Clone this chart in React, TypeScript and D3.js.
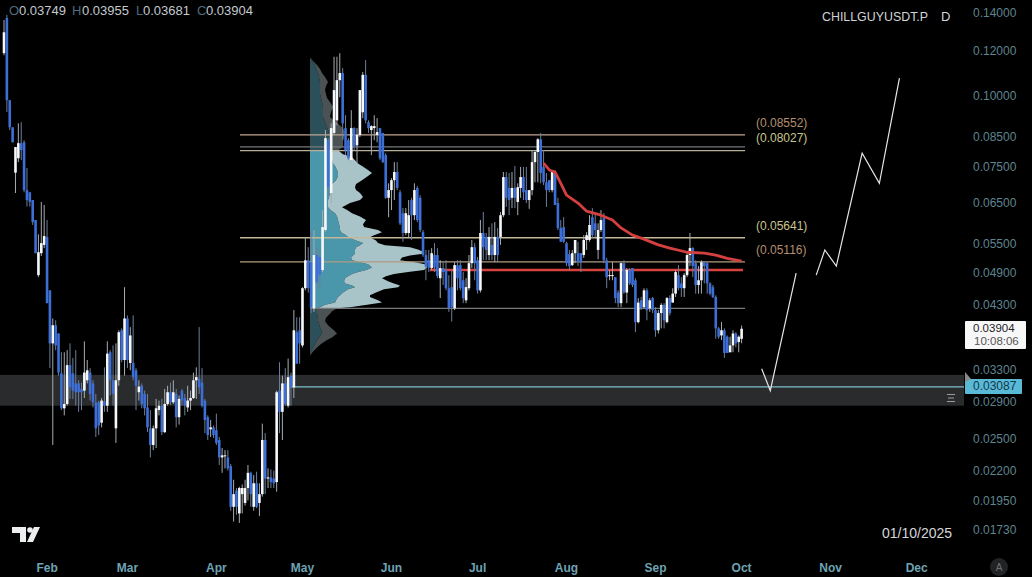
import React from "react";
import * as d3 from "d3";

// All prices are in units of 0.0001 USDT. Each candle is [open, high, low, close].
type Candle = [number, number, number, number];
const UNIT = 0.0001;

const janCandles: Candle[] = [
  [1190,1361,1180,1295],[1372,1389,938,984],[984,984,872,882],[882,882,830,830],[734,814,676,814],
  [778,896,766,827],[827,900,772,804],[830,837,678,684],[684,748,640,657],[678,678,640,652],
  [657,657,594,601],[606,606,530,530],[485,572,481,532],[530,652,524,552],[548,644,541,568],
];
const febCandles: Candle[] = [
  [566,606,433,433],[456,456,333,368],[368,407,244,396],[396,404,358,365],[383,383,323,327],
  [326,355,281,283],[283,355,275,288],[288,358,286,337],[337,368,294,308],[326,347,294,304],
  [313,358,286,302],[313,317,279,302],[306,314,281,302],[304,371,295,327],[317,344,313,330],
  [327,333,292,300],[313,317,284,290],[290,300,252,261],[290,292,254,264],[267,295,262,292],
  [291,334,279,286],[286,371,279,353],[355,358,298,317],[317,365,286,300],[261,368,246,317],
  [317,388,310,385],[388,391,341,344],[344,462,323,407],
];
const marCandles: Candle[] = [
  [407,412,333,344],[340,393,330,380],[340,412,317,321],[330,333,281,310],[302,317,292,309],
  [310,313,283,288],[300,304,275,283],[284,300,257,262],[261,281,232,244],[244,264,239,261],
  [261,294,241,283],[281,292,275,286],[286,294,254,257],[257,306,256,288],[288,310,286,302],
  [302,314,287,290],[290,317,288,302],[300,306,262,273],[273,298,265,294],[304,306,286,292],
  [295,300,275,286],[284,310,279,292],[292,304,281,295],[295,327,294,317],[317,334,294,321],
  [319,393,300,308],[314,333,284,286],[292,294,256,270],[273,275,249,254],[260,270,252,262],
  [262,264,251,254],
];
const aprCandles: Candle[] = [
  [259,277,244,246],[249,252,225,232],[232,241,218,234],[233,239,222,234],[232,239,220,222],
  [224,226,187,190],[190,212,179,200],[203,205,184,190],[185,206,178,205],[200,208,185,205],
  [193,212,191,205],[205,225,195,218],[218,219,190,200],[190,216,187,209],[209,219,189,190],
  [193,209,183,200],[200,266,198,249],[249,256,200,213],[213,222,205,214],[214,221,205,210],
  [213,220,205,209],[210,304,202,302],[304,341,256,279],[279,323,249,313],[313,333,286,288],
  [286,346,284,321],[323,327,286,308],[308,421,295,388],[385,409,339,339],[388,409,339,368],
];
const mayCandles: Candle[] = [
  [365,462,362,460],[460,566,456,515],[515,543,452,460],[511,582,416,426],[424,582,418,526],
  [526,543,466,471],[522,537,458,485],[495,631,491,589],[582,872,577,844],[837,844,670,692],
  [676,896,649,879],[862,1173,855,1025],[907,1173,889,1067],[1067,1190,996,1098],[1098,1121,837,896],
  [879,926,788,804],[837,844,772,778],[772,945,766,879],[879,882,804,814],[820,879,763,855],
  [855,1025,848,1025],[937,1103,915,1090],[1090,1157,896,907],[900,907,862,879],[872,889,788,886],
  [879,926,837,886],[855,915,830,865],[879,879,772,778],[862,862,763,766],[788,794,660,663],
  [663,703,613,684],
];
const junCandles: Candle[] = [
  [684,718,631,712],[712,766,657,736],[736,766,684,690],[678,684,594,598],[623,636,555,575],
  [575,636,570,623],[575,657,563,618],[657,663,559,618],[618,703,606,684],[690,695,601,606],
  [663,670,577,582],[577,582,522,526],[526,537,475,502],[515,537,491,500],[499,541,495,530],
  [526,552,491,500],[526,541,479,483],[479,515,442,499],[499,511,466,491],[495,515,456,460],
  [460,485,418,424],[462,495,402,426],[424,511,421,505],[505,515,456,479],[505,515,456,460],
  [475,491,433,442],[438,479,433,462],[460,526,456,509],[509,559,499,543],[543,552,475,509],
];
const julCandles: Candle[] = [
  [515,522,450,456],[456,606,452,575],[575,626,515,543],[566,575,515,537],[526,589,515,566],
  [548,598,515,526],[526,601,511,566],[566,587,511,526],[566,626,548,618],[618,736,613,721],
  [721,736,639,663],[690,733,618,657],[663,736,636,690],[690,754,636,663],[652,703,618,692],
  [690,751,663,721],[721,751,657,678],[684,751,649,657],[657,684,634,684],[684,804,670,766],
  [766,804,706,798],[798,844,706,840],[840,862,703,733],[751,804,698,706],[706,733,639,684],
  [712,712,678,684],[684,742,678,736],[736,742,644,644],[649,663,582,587],[587,606,555,555],
  [589,613,552,555],
];
const augCandles: Candle[] = [
  [552,555,503,509],[528,537,495,503],[505,537,503,530],[530,559,509,559],[530,555,503,511],
  [530,528,491,511],[526,570,520,559],[559,577,537,570],[559,618,555,594],[613,636,563,570],
  [598,623,566,582],[537,598,517,582],[582,631,577,606],[611,623,509,515],[515,520,460,481],
  [483,495,475,485],[483,511,475,485],[481,481,433,442],[452,456,426,433],[433,511,426,509],
  [509,515,450,452],[452,499,433,495],[495,499,466,469],[499,499,462,466],[475,479,385,401],
  [401,442,399,434],[438,444,421,424],[426,460,424,456],[456,460,404,421],[424,442,418,438],
  [442,444,416,421],
];
const sepCandles: Candle[] = [
  [421,426,378,388],[388,421,383,416],[416,433,391,430],[430,433,391,404],[401,444,399,442],
  [442,447,412,416],[434,460,434,450],[450,495,444,491],[485,505,456,460],[469,481,444,460],
  [460,489,444,485],[485,532,481,526],[526,575,503,541],[541,543,481,503],[509,515,450,466],
  [466,503,450,475],[475,515,450,511],[511,511,469,503],[509,511,450,469],[469,471,447,450],
  [462,466,442,444],[444,447,375,391],[391,393,375,378],[380,401,373,388],[388,391,347,354],
  [378,380,354,354],[355,378,355,365],[365,388,355,383],[383,385,362,368],[370,380,355,378],
];
const octCandles: Candle[] = [[374.9, 395.5, 368.1, 390.4]];

const allCandles: Candle[] = [
  ...janCandles, ...febCandles, ...marCandles, ...aprCandles, ...mayCandles,
  ...junCandles, ...julCandles, ...augCandles, ...sepCandles, ...octCandles,
];

const firstDay = Date.UTC(2025, 0, 17);
const lastDay = Date.UTC(2025, 9, 1);
const DAY = 86400000;

const monthTicks: [string, number, number][] = [
  ["Feb", 2025, 1], ["Mar", 2025, 2], ["Apr", 2025, 3], ["May", 2025, 4], ["Jun", 2025, 5],
  ["Jul", 2025, 6], ["Aug", 2025, 7], ["Sep", 2025, 8], ["Oct", 2025, 9], ["Nov", 2025, 10], ["Dec", 2025, 11],
];
const priceTicks = [0.14, 0.12, 0.1, 0.085, 0.075, 0.065, 0.055, 0.049, 0.043, 0.033, 0.029, 0.025, 0.022, 0.0195, 0.0173];

// Anchored average line: [days after first candle, price units]
const avgLine: [number, number][] = [
  [188,763],[190,742],[192,736],[194,703],[196,670],[200,649],[203,628],[208,618],[212,606],[215,587],
  [219,570],[223,561],[228,548],[232,541],[238,532],[244,530],[248,526],[252,519],[257,513],
];
// Hand-drawn projection: two strokes of [days after first candle, price units]
const projectionA: [number, number][] = [[264,332],[267,304],[276,489]];
const projectionB: [number, number][] = [[283,485],[286,537],[290,503],[299,794],[305,703],[312,1076]];

// Volume profile
const profilePrice = [1171,1153,1134,1116,1098,1081,1059,1042,1025,1009,993,977,957,938,919,900,882,872,861,847,834,820,814,
  804,791,782,772,762,754,742,733,724,712,701,692,684,676,665,657,649,638,630,623,615,606,596,589,582,577,570,565,558,552,547,543,538,534,529,525,521,515,511,507,500,495,491,487,483,479,473,469,465,462,458,452,447,444,438,434,430,426,
  424,419,415,408,403,398,393,388,383,377,373,367,362,356,350];
const profileTotal = [0,3,7,10,12,15,18,16,15,16,17,20,23,21,20,26,32,34,35,34,33,33,33,
  28,33,42,45,48,52,58,62,58,52,46,45,46,50,53,50,40,32,38,42,50,56,53,54,68,72,64,60,66,68,75,100,108,112,113,100,92,90,105,115,117,114,98,84,76,72,78,84,90,88,74,66,60,60,68,72,57,40,
  27,22,20,16,15,17,20,24,27,22,17,11,7,3,0];
const profileBuy = [0,2,5,6,8,9,10,10,10,10,11,12,13,13,13,15,17,18,19,19,18,18,18,
  23,20,21,22,23,25,27,28,28,26,22,21,20,20,19,18,18,18,21,25,27,28,29,30,30,31,36,38,46,53,50,46,45,45,45,43,41,42,50,58,62,56,48,42,38,35,34,35,42,45,38,33,30,28,26,25,15,10,
  7,7,7,8,8,9,10,11,12,9,7,5,3,1,0];

const levelLines: { price: number; from: number; color: string }[] = [
  { price: 0.08552, from: 240, color: "#c2a48f" },
  { price: 0.0815, from: 240, color: "#77787a" },
  { price: 0.08027, from: 240, color: "#b5b096" },
  { price: 0.05641, from: 240, color: "#c2b896" },
  { price: 0.05116, from: 240, color: "#b29c80" },
  { price: 0.0424, from: 310, color: "#77787a" },
];
const levelLabels = [
  { text: "(0.08552)", price: 0.0896, color: "#b58e70" },
  { text: "(0.08027)", price: 0.0840, color: "#c9c48f" },
  { text: "(0.05641)", price: 0.0590, color: "#c9c48f" },
  { text: "(0.05116)", price: 0.0535, color: "#b58e70" },
];
const header = [
  ["O", "0.03749", 9, 19],
  ["H", "0.03955", 72, 82],
  ["L", "0.03681", 136, 143],
  ["C", "0.03904", 197, 206],
] as const;

const W = 1032, H = 577;
const sans = "'Liberation Sans', Arial, sans-serif";

export default function App() {
  const x = d3.scaleUtc().domain([firstDay, lastDay]).range([4, 741.6]);
  const xi = (i: number) => x(firstDay + i * DAY);
  const y = d3.scaleLog().domain([0.14, 0.0173]).range([13, 530]);
  const yu = (u: number) => y(u * UNIT);
  const v = d3.scaleLinear().domain([0, 117]).range([310, 427]);

  const lineGen = d3.line<[number, number]>().x(d => xi(d[0])).y(d => yu(d[1]));

  const rows = profilePrice.map((p, i) => ({ p, t: profileTotal[i], b: profileBuy[i] }));
  const upper = rows.filter(r => r.p >= 804);
  const value = rows.filter(r => r.p <= 804 && r.p >= 424);
  const lower = rows.filter(r => r.p <= 424);
  const buyArea = d3.area<typeof rows[0]>().y(r => yu(r.p)).x0(v(0)).x1(r => v(r.b));
  const sellArea = d3.area<typeof rows[0]>().y(r => yu(r.p)).x0(r => v(r.b)).x1(r => v(r.t));

  return (
    <svg width={W} height={H} style={{ position: "absolute", left: 0, top: 0, display: "block", background: "#000" }} fontFamily={sans}>
      <rect x={0} y={0} width={W} height={H} fill="#000" />

      {/* zone */}
      <rect x={0} y={y(0.0324)} width={964} height={y(0.0286) - y(0.0324)} fill="#2a2b2d" />

      {/* volume profile */}
      <path d={buyArea(upper) ?? ""} fill="#2b505a" />
      <path d={sellArea(upper) ?? ""} fill="#4a5254" />
      <path d={buyArea(lower) ?? ""} fill="#2b505a" />
      <path d={sellArea(lower) ?? ""} fill="#4a5254" />
      <path d={buyArea(value) ?? ""} fill="#4a96aa" />
      <path d={sellArea(value) ?? ""} fill="#a8c4c8" />

      {/* levels */}
      {levelLines.map(l => (
        <line key={l.price} x1={l.from} x2={745} y1={y(l.price)} y2={y(l.price)} stroke={l.color} strokeWidth={1.3} />
      ))}
      <line x1={430} x2={743} y1={y(0.0495)} y2={y(0.0495)} stroke="#d8433f" strokeWidth={2.4} />
      <line x1={290} x2={964} y1={y(0.03087)} y2={y(0.03087)} stroke="#7cc0cc" strokeWidth={1.2} />

      {/* candles */}
      {allCandles.map((c, i) => {
        const [o, h, l, cl] = c;
        const up = cl >= o;
        const top = yu(Math.max(o, cl));
        const bot = yu(Math.min(o, cl));
        const cx = xi(i);
        return (
          <g key={i}>
            <line x1={cx} x2={cx} y1={yu(Math.max(h, o, cl))} y2={yu(Math.min(l, o, cl))} stroke={up ? "#a8abb0" : "#6d7f9c"} strokeWidth={1} />
            <rect x={cx - 1.3} width={2.6} y={top} height={Math.max(bot - top, 1)} fill={up ? "#f6f9fc" : "#3d6fd6"} />
          </g>
        );
      })}

      {/* average line */}
      <path d={lineGen(avgLine) ?? ""} fill="none" stroke="#d3403f" strokeWidth={2.8} strokeLinejoin="round" />

      {/* projection */}
      <path d={lineGen(projectionA) ?? ""} fill="none" stroke="#e6e6e6" strokeWidth={1.2} />
      <path d={lineGen(projectionB) ?? ""} fill="none" stroke="#e6e6e6" strokeWidth={1.2} />

      {/* level labels */}
      {levelLabels.map(l => (
        <text key={l.text} x={756} y={y(l.price)} fontSize={12} fill={l.color} dominantBaseline="middle">{l.text}</text>
      ))}

      {/* header */}
      {header.map(([k, val, kx, vx]) => (
        <g key={k} fontSize={13}>
          <text x={kx} y={15} fill="#4f6b7c">{k}</text>
          <text x={vx} y={15} fill="#c3cace">{val}</text>
        </g>
      ))}
      <text x={822} y={21} fontSize={12.4} fill="#d2d4d6">CHILLGUYUSDT.P</text>
      <text x={941} y={21} fontSize={13} fill="#d2d4d6">D</text>

      {/* price axis */}
      {priceTicks.map(t => (
        <text key={t} x={973} y={y(t) + 1} fontSize={12} fill="#5f8490" dominantBaseline="middle">{t.toFixed(5)}</text>
      ))}

      {/* current price tag */}
      <rect x={965} y={321} width={61} height={28} fill="#f7f7f7" rx={1} />
      <text x={973} y={329} fontSize={11.5} fill="#222" dominantBaseline="middle">0.03904</text>
      <text x={974} y={342} fontSize={11.5} fill="#555" dominantBaseline="middle">10:08:06</text>
      <rect x={965} y={379} width={57} height={15} fill="#5bb9d8" rx={1} />
      <text x={973} y={387} fontSize={12} fill="#0e3a4a" dominantBaseline="middle">0.03087</text>
      <path d="M965,372 L971,379 L965,382 Z" fill="#8a8a8a" />
      <g stroke="#9a9ea2" strokeWidth={1}>
        <line x1={947} x2={955} y1={394.5} y2={394.5} />
        <line x1={948} x2={954} y1={398} y2={398} />
        <line x1={947} x2={955} y1={401.5} y2={401.5} />
      </g>

      {/* date and logo */}
      <text x={882} y={538} fontSize={14} fill="#d5d7d9">01/10/2025</text>
      <path d="M12,527 H26 V542 H20 V533 H12 Z M34,527 H40 L33,542 H27 Z" fill="#eceeef" />
      <circle cx={30} cy={530} r={2.8} fill="#eceeef" />

      {/* time axis */}
      {monthTicks.map(([m, yr, mo]) => (
        <text key={m} x={x(Date.UTC(yr, mo, 1))} y={572} fontSize={12} fontWeight={600} fill="#6ea3b3" textAnchor="middle">{m}</text>
      ))}
      <circle cx={999} cy={567} r={9} fill="#222324" />
      <text x={999} y={571} fontSize={10} fill="#6f7274" textAnchor="middle">A</text>
    </svg>
  );
}
